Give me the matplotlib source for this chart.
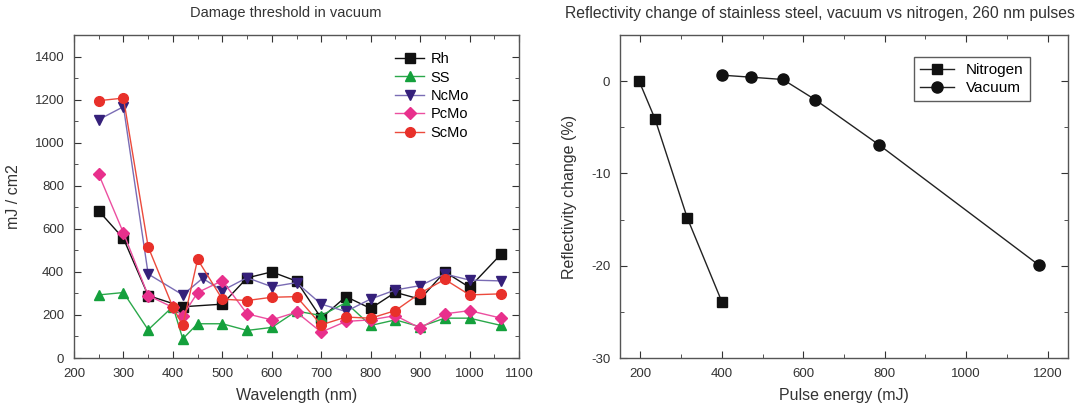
"""Damage threshold and reflectivity change charts."""
import matplotlib
matplotlib.use("Agg")
import matplotlib.pyplot as plt
from matplotlib.ticker import MultipleLocator

plt.rcParams["font.family"] = ["Liberation Sans", "DejaVu Sans"]
plt.rcParams["axes.unicode_minus"] = False

# left chart: damage threshold in vacuum (mJ/cm2)
wl = [250, 300, 350, 400, 420, 450, 500, 550, 600, 650, 700, 750, 800, 850, 900, 950, 1000, 1064]
wl_rh = [250, 300, 350, 420, 500, 550, 600, 650, 700, 750, 800, 850, 900, 950, 1000, 1064]
rh = [683, 555, 290, 238, 250, 372, 400, 357, 185, 285, 230, 305, 273, 400, 328, 483]
ss = [293, 304, 131, 239, 89, 159, 159, 128, 142, 218, 197, 257, 151, 177, 145, 185, 185, 151]
wl_nc = [250, 300, 350, 420, 460, 500, 550, 600, 650, 700, 750, 800, 850, 900, 950, 1000, 1064]
ncmo = [1107, 1167, 390, 293, 370, 313, 373, 331, 350, 250, 216, 274, 316, 336, 390, 362, 358]
pcmo = [853, 581, 290, 235, 196, 304, 359, 205, 177, 213, 120, 170, 177, 197, 139, 205, 220, 185]
scmo = [1195, 1207, 516, 236, 151, 458, 273, 267, 282, 285, 154, 190, 185, 220, 301, 365, 293, 298]

# right chart: reflectivity change (%) vs pulse energy (mJ)
n2_energy = [197, 236, 315, 400]
n2_change = [0.0, -4.1, -14.8, -23.9]
vac_energy = [400, 471, 550, 629, 786, 1179]
vac_change = [0.65, 0.43, 0.18, -2.0, -6.9, -19.95]

TXT = "#333333"


def style_axes(ax):
    ax.tick_params(which="both", direction="in", top=True, right=True, labelsize=9.5, colors=TXT)
    ax.tick_params(which="major", length=5)
    ax.tick_params(which="minor", length=3)
    ax.tick_params(axis="x", pad=7)
    ax.tick_params(axis="y", pad=7)
    for sp in ax.spines.values():
        sp.set_color("#555555")
        sp.set_linewidth(1.0)


fig = plt.figure(figsize=(10.8, 4.15), dpi=100)

ax1 = fig.add_axes([74 / 1080, 57 / 415, 445 / 1080, 323 / 415])
series = [
    ("Rh", wl_rh, rh, "#111111", "#111111", "s"),
    ("SS", wl, ss, "#14a03c", "#2aa84a", "^"),
    ("NcMo", wl_nc, ncmo, "#35207a", "#7a6cb4", "v"),
    ("PcMo", wl, pcmo, "#e8308c", "#ec4fa0", "D"),
    ("ScMo", wl, scmo, "#e8302a", "#ec4a3c", "o"),
]
for name, x, y, mc, lc, m in series:
    ax1.plot(x, y, color=lc, lw=1.0, marker=m, ms=7 if m != "D" else 6,
             mfc=mc, mec=mc, label=name)
ax1.set_xlim(200, 1100)
ax1.set_ylim(0, 1500)
ax1.set_yticks(range(0, 1401, 200))
ax1.xaxis.set_major_locator(MultipleLocator(100))
ax1.xaxis.set_minor_locator(MultipleLocator(50))
ax1.yaxis.set_minor_locator(MultipleLocator(100))
style_axes(ax1)
ax1.text(0.475, 1.068, "Damage threshold in vacuum", transform=ax1.transAxes,
         ha="center", va="center", fontsize=10.5, color=TXT)
ax1.set_xlabel("Wavelength (nm)", fontsize=11.5, color=TXT, labelpad=6)
ax1.set_ylabel("mJ / cm2", fontsize=11.5, color=TXT, labelpad=10)
ax1.legend(loc="upper right", frameon=False, fontsize=10.5, handlelength=2.0,
           handletextpad=0.4, labelspacing=0.3, borderaxespad=0,
           bbox_to_anchor=(0.9, 0.965))

ax2 = fig.add_axes([620 / 1080, 57 / 415, 448 / 1080, 323 / 415])
ax2.plot(n2_energy, n2_change, color="#222222", lw=1.0, marker="s", ms=7,
         mfc="#111111", mec="#111111", label="Nitrogen")
ax2.plot(vac_energy, vac_change, color="#222222", lw=1.0, marker="o", ms=8,
         mfc="#111111", mec="#111111", label="Vacuum")
ax2.set_xlim(150, 1250)
ax2.set_ylim(-30, 5)
ax2.set_xticks(range(200, 1201, 200))
ax2.set_yticks([-30, -20, -10, 0])
ax2.xaxis.set_minor_locator(MultipleLocator(100))
ax2.yaxis.set_minor_locator(MultipleLocator(5))
style_axes(ax2)
ax2.text(0.446, 1.068, "Reflectivity change of stainless steel, vacuum vs nitrogen, 260 nm pulses",
         transform=ax2.transAxes, ha="center", va="center", fontsize=11.3, color=TXT)
ax2.set_xlabel("Pulse energy (mJ)", fontsize=11.5, color=TXT, labelpad=6)
ax2.set_ylabel("Reflectivity change (%)", fontsize=11.5, color=TXT, labelpad=10)
leg = ax2.legend(loc="upper right", fontsize=11, handlelength=2.2, labelspacing=0.25,
                 fancybox=False, edgecolor="#333333", borderaxespad=0,
                 bbox_to_anchor=(0.915, 0.932))
leg.get_frame().set_linewidth(1.0)

fig.savefig("out.png", dpi=100)
